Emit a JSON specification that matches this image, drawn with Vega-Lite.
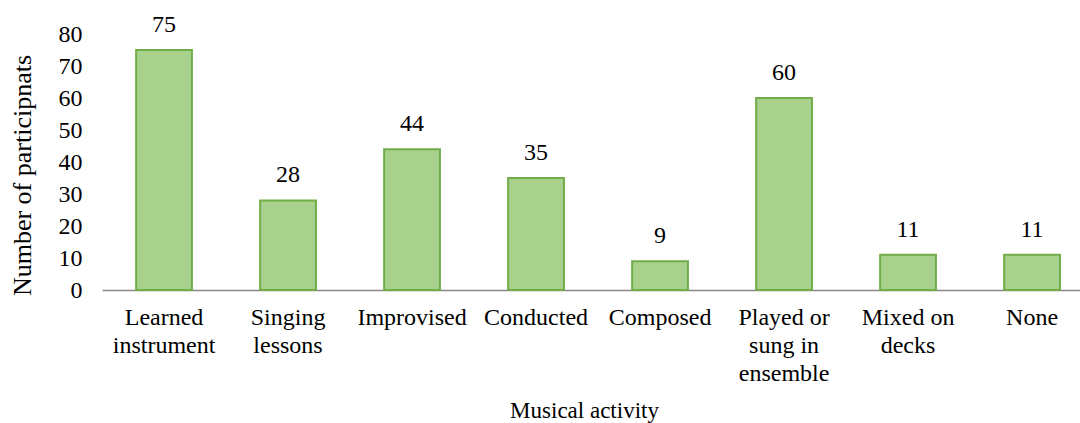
{
  "$schema": "https://vega.github.io/schema/vega-lite/v6.json",
  "width": 978,
  "height": 256,
  "autosize": {"type": "none"},
  "padding": {"left": 102, "top": 34, "right": 0, "bottom": 133},
  "background": "white",
  "config": {
    "view": {"stroke": null},
    "font": "Liberation Serif"
  },
  "data": {
    "values": [
      {"activity": "Learned|instrument", "count": 75},
      {"activity": "Singing|lessons", "count": 28},
      {"activity": "Improvised", "count": 44},
      {"activity": "Conducted", "count": 35},
      {"activity": "Composed", "count": 9},
      {"activity": "Played or|sung in|ensemble", "count": 60},
      {"activity": "Mixed on|decks", "count": 11},
      {"activity": "None", "count": 11}
    ]
  },
  "encoding": {
    "x": {
      "field": "activity",
      "type": "nominal",
      "sort": null,
      "scale": {"paddingInner": 0.55, "paddingOuter": 0.2185, "align": 0.63},
      "axis": {
        "title": "Musical activity",
        "titleFont": "Liberation Serif",
        "titleFontSize": 23,
        "titleFontWeight": "normal",
        "titleColor": "#000000",
        "titleX": 482,
        "titleY": 127,
        "titleBaseline": "alphabetic",
        "labelAngle": 0,
        "labelFont": "Liberation Serif",
        "labelFontSize": 24,
        "labelColor": "#000000",
        "labelExpr": "split(datum.value, '|')",
        "labelLineHeight": 28,
        "labelPadding": 15,
        "labelBaseline": "top",
        "ticks": false,
        "domainColor": "#898989",
        "domainWidth": 1.5,
        "grid": false
      }
    },
    "y": {
      "field": "count",
      "type": "quantitative",
      "scale": {"domain": [0, 80], "nice": false},
      "axis": {
        "title": "Number of participnats",
        "titleFont": "Liberation Serif",
        "titleFontSize": 26,
        "titleFontWeight": "normal",
        "titleColor": "#000000",
        "titlePadding": 23,
        "titleY": 141,
        "values": [0, 10, 20, 30, 40, 50, 60, 70, 80],
        "labelFont": "Liberation Serif",
        "labelFontSize": 24,
        "labelColor": "#000000",
        "labelPadding": 20,
        "ticks": false,
        "domain": false,
        "grid": false
      }
    }
  },
  "layer": [
    {
      "mark": {"type": "bar", "fill": "#a9d18e", "stroke": "#70ad47", "strokeWidth": 2}
    },
    {
      "mark": {"type": "text", "baseline": "bottom", "dy": -13, "font": "Liberation Serif", "fontSize": 24, "color": "#000000"},
      "encoding": {"text": {"field": "count", "type": "quantitative"}}
    }
  ]
}
